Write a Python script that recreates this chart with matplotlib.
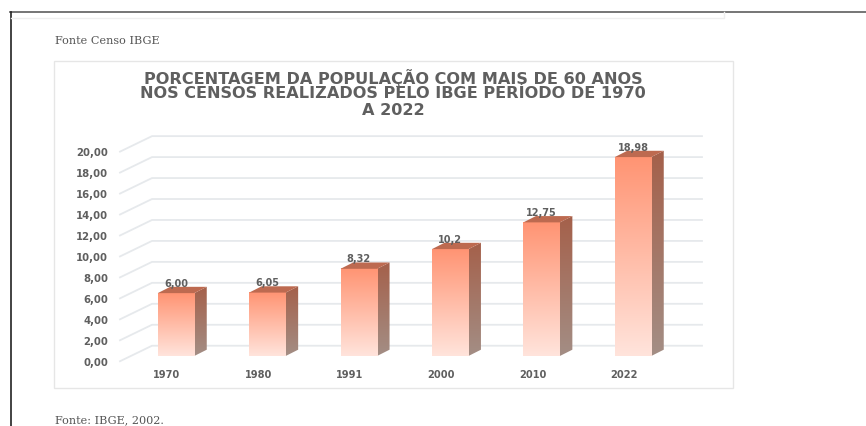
# -*- coding: utf-8 -*-
import numpy as np
import matplotlib
matplotlib.use('Agg')
import matplotlib.pyplot as plt
from matplotlib.colors import LinearSegmentedColormap
from matplotlib.patches import Polygon, Rectangle
from matplotlib.transforms import ScaledTranslation

years = ['1970', '1980', '1991', '2000', '2010', '2022']
values = [6.00, 6.05, 8.32, 10.2, 12.75, 18.98]
value_labels = ['6,00', '6,05', '8,32', '10,2', '12,75', '18,98']
y_ticks = [0, 2, 4, 6, 8, 10, 12, 14, 16, 18, 20]
y_tick_labels = ['0,00', '2,00', '4,00', '6,00', '8,00', '10,00', '12,00', '14,00', '16,00', '18,00', '20,00']
title_lines = ['PORCENTAGEM DA POPULAÇÃO COM MAIS DE 60 ANOS',
               'NOS CENSOS REALIZADOS PELO IBGE PERÍODO DE 1970',
               'A 2022']
source_top = 'Fonte Censo IBGE'
source_bottom = 'Fonte: IBGE, 2002.'

W, H = 866, 427
text_color = '#5f5f5f'
grid_color = '#e6e9ec'
front_cmap = LinearSegmentedColormap.from_list('front', ['#ffe4dc', '#ff9473'])
side_cmap = LinearSegmentedColormap.from_list('side', ['#a38e85', '#a5604a'])
top_color = '#bd6a50'

# scale of the plot, in pixels
x0_px, dx_px = 176, 91.4
y0_px, dy_px = 357, 10.48
bar_w = 36.5 / dx_px
depth_x = 12.5 / dx_px
depth_y = 6.3 / dy_px


def fx(px):
    return px / W


def fy(px):
    return 1 - px / H


fig = plt.figure(figsize=(W / 100, H / 100), dpi=100)

# page frame and chart frame
fig.add_artist(plt.Line2D([fx(10), 1], [fy(13), fy(13)], color='#6a6a6a', lw=1.3))
fig.add_artist(plt.Line2D([fx(10.5), fx(10.5)], [fy(13), 0], color='#222222', lw=1.2))
fig.add_artist(plt.Line2D([fx(11), fx(724), fx(724)], [fy(18.5), fy(18.5), fy(13)], color='#eeeeee', lw=1))
fig.add_artist(Rectangle((fx(54), fy(389)), fx(733) - fx(54), fy(62) - fy(389), transform=fig.transFigure,
                         facecolor='white', edgecolor='#e6e6e6', lw=1, zorder=-1))

fig.text(fx(55), fy(41), source_top, family='DejaVu Serif', fontsize=8.1, color='#555555', va='center')
fig.text(fx(55), fy(420.5), source_bottom, family='DejaVu Serif', fontsize=8.1, color='#555555', va='center')

title_y = [78, 93, 110.5]
for line, yy in zip(title_lines, title_y):
    fig.text(fx(393), fy(yy), line, family='DejaVu Sans', fontweight='bold', fontsize=11.6,
             color=text_color, ha='center', va='center')

ax = fig.add_axes([fx(120), fy(365), fx(702) - fx(120), fy(130) - fy(365)])
ax.patch.set_alpha(0)
xlim = ((120 - x0_px) / dx_px, (702 - x0_px) / dx_px)
ylim = ((y0_px - 365) / dy_px, (y0_px - 130) / dy_px)

# walls
wall_x = (152 - x0_px) / dx_px
for v in y_ticks:
    ax.plot([xlim[0], wall_x, xlim[1]], [v - 0.5, v + 0.98, v + 0.98], color=grid_color, lw=1.3, zorder=1,
            clip_on=False, solid_joinstyle='round')

grad = np.linspace(1, 0, 256).reshape(-1, 1)
for i, v in enumerate(values):
    left = i - bar_w / 2
    right = i + bar_w / 2
    # front
    ax.imshow(grad, extent=(left, right, 0, v), cmap=front_cmap, aspect='auto', zorder=3, vmin=0, vmax=1)
    # side
    im = ax.imshow(grad, extent=(right, right + depth_x, 0, v + depth_y), cmap=side_cmap, aspect='auto',
                   zorder=2, vmin=0, vmax=1)
    side = Polygon([(right, 0), (right + depth_x, depth_y), (right + depth_x, v + depth_y), (right, v)],
                   transform=ax.transData, facecolor='none', edgecolor='none')
    ax.add_patch(side)
    im.set_clip_path(side)
    # top
    ax.add_patch(Polygon([(left, v), (right, v), (right + depth_x, v + depth_y), (left + depth_x, v + depth_y)],
                         facecolor=top_color, edgecolor='none', zorder=3))
    ax.annotate(value_labels[i], (i, v), xytext=(0, 7.6), textcoords='offset points', ha='center', va='center',
                fontsize=7, fontweight='bold', color=text_color, zorder=5)

ax.set_xlim(xlim)
ax.set_ylim(ylim)
ax.set_xticks(range(len(years)))
ax.set_xticklabels(years, fontsize=7.1, fontweight='bold', color=text_color)
ax.set_yticks(y_ticks)
ax.set_yticklabels(y_tick_labels, fontsize=7.3, fontweight='bold', color=text_color)
ax.tick_params(axis='x', length=0, pad=3.6)
ax.tick_params(axis='y', length=0, pad=8.6)
for s in ax.spines.values():
    s.set_visible(False)
for lab in ax.get_xticklabels():
    lab.set_transform(lab.get_transform() + ScaledTranslation(-9 / 100, 0, fig.dpi_scale_trans))
for lab in ax.get_yticklabels():
    lab.set_transform(lab.get_transform() + ScaledTranslation(0, -5 / 100, fig.dpi_scale_trans))

fig.savefig('out.png', dpi=100)
plt.close()
